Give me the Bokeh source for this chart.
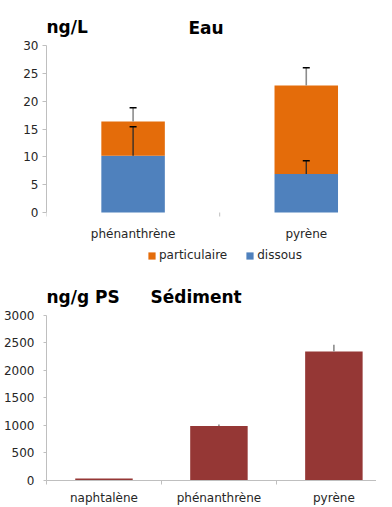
from bokeh.plotting import figure
from bokeh.layouts import column
from bokeh.models import (ColumnDataSource, Range1d, FixedTicker, Whisker, TeeHead,
                          Label, Legend, LegendItem)
from bokeh.core.properties import value
from bokeh.embed import file_html
from bokeh.resources import INLINE

# ---------------- data ----------------
eau_categories = ["phénanthrène", "pyrène"]
eau_dissous = [10.2, 6.9]
eau_particulaire = [6.15, 15.9]
eau_dissous_err = [5.2, 2.4]
eau_total_err = [2.45, 3.2]
eau_ticks = [0, 5, 10, 15, 20, 25, 30]

sed_categories = ["naphtalène", "phénanthrène", "pyrène"]
sed_values = [35, 990, 2340]
sed_err = [0, 25, 125]
sed_ticks = [0, 500, 1000, 1500, 2000, 2500, 3000]

ORANGE = "#E46C0A"
BLUE = "#4F81BD"
MAROON = "#953735"
TXT = "#262626"
AX = "#bfbfbf"
FONT = "DejaVu Sans"


def style(p, ticks, tick_out, standoff):
    p.outline_line_color = None
    p.xgrid.grid_line_color = None
    p.ygrid.grid_line_color = None
    p.background_fill_color = "white"
    p.border_fill_color = "white"
    ya = p.yaxis[0]
    ya.ticker = FixedTicker(ticks=ticks)
    ya.bounds = (ticks[0], ticks[-1])
    ya.axis_line_color = AX
    ya.major_tick_line_color = AX
    ya.major_tick_out = tick_out
    ya.major_tick_in = 0
    ya.minor_tick_line_color = None
    ya.major_label_text_font = FONT
    ya.major_label_text_font_size = "12px"
    ya.major_label_text_color = TXT
    ya.major_label_standoff = standoff


def title(p, text, x, y):
    p.add_layout(Label(x=x, y=y, x_units="screen", y_units="screen", text=text,
                       text_font=FONT, text_font_style="bold", text_font_size="17px",
                       text_baseline="middle", text_color="black", level="annotation"))


# ---------------- top: Eau ----------------
n1 = len(eau_categories)
x1 = [i + 0.5 for i in range(n1)]
tot1 = [d + q for d, q in zip(eau_dissous, eau_particulaire)]
src1 = ColumnDataSource(dict(
    x=x1, dissous=eau_dissous, part=eau_particulaire, total=tot1,
    d_up=[d + e for d, e in zip(eau_dissous, eau_dissous_err)],
    t_up=[t + e for t, e in zip(tot1, eau_total_err)],
    label=eau_categories,
))

px1 = 180.0          # pixels per category
py1 = 167.0 / 30     # pixels per ng/L
p1 = figure(width=376, height=264, output_backend="svg", toolbar_location=None,
            x_axis_location=None,
            x_range=Range1d(0, 343 / px1), y_range=Range1d(-52 / py1, 212 / py1),
            min_border_left=33, min_border_right=0, min_border_top=0, min_border_bottom=0)
style(p1, eau_ticks, 4, 4)

r_d = p1.vbar(x="x", top="dissous", bottom=0, width=66 / px1, source=src1,
              fill_color=BLUE, line_color=None)
r_p = p1.vbar(x="x", top="total", bottom="dissous", width=66 / px1, source=src1,
              fill_color=ORANGE, line_color=None)

p1.add_layout(Whisker(base="x", lower="dissous", upper="d_up", source=src1, dimension="height",
                      line_color="#2b2b2b", line_width=1.3, lower_head=None, level="annotation",
                      upper_head=TeeHead(size=7, line_color="black", line_width=1.5)))
p1.add_layout(Whisker(base="x", lower="total", upper="t_up", source=src1, dimension="height",
                      line_color="#8c8c8c", line_width=1.6, lower_head=None, level="annotation",
                      upper_head=TeeHead(size=7, line_color="black", line_width=1.5)))

# category labels and boundary ticks of the x axis
bounds1 = list(range(n1 + 1))
p1.segment(x0=bounds1, x1=bounds1, y0=[0] * len(bounds1), y1=[-4 / py1] * len(bounds1),
           line_color=AX, line_width=1)
p1.text(x="x", y=0, text="label", source=src1, y_offset=21, text_align="center",
        text_baseline="middle", text_font=value(FONT), text_font_size="12px", text_color=TXT)

legend1 = Legend(items=[LegendItem(label="particulaire", renderers=[r_p]),
                        LegendItem(label="dissous", renderers=[r_d])],
                 orientation="horizontal", location=(101, 2),
                 glyph_width=9, glyph_height=9, label_standoff=3, spacing=18,
                 padding=0, margin=0, border_line_color=None, background_fill_alpha=0,
                 label_text_font=FONT, label_text_font_size="12px",
                 label_text_color=TXT, label_height=13)
p1.add_layout(legend1, "center")

title(p1, "ng/L", 0, 238)
title(p1, "Eau", 142, 237)

# ---------------- bottom: Sédiment ----------------
n2 = len(sed_categories)
x2 = [i + 0.5 for i in range(n2)]
src2 = ColumnDataSource(dict(
    x=x2, v=sed_values,
    up=[v + e for v, e in zip(sed_values, sed_err)],
))

px2 = 116.0
py2 = 166.0 / 3000
p2 = figure(width=376, height=243, output_backend="svg", toolbar_location=None,
            x_range=Range1d(0, 333 / px2), y_range=Range1d(0, 217 / py2),
            min_border_left=43, min_border_right=0, min_border_top=0, min_border_bottom=0)
style(p2, sed_ticks, 3, 9)

p2.vbar(x="x", top="v", bottom=0, width=58 / px2, source=src2, fill_color=MAROON, line_color=None)
p2.add_layout(Whisker(base="x", lower="v", upper="up", source=src2, dimension="height",
                      line_color="#8c8c8c", line_width=1.6, lower_head=None, upper_head=None,
                      level="annotation"))

xb = p2.xaxis[0]
xb.ticker = FixedTicker(ticks=x2, minor_ticks=list(range(n2 + 1)))
xb.major_label_overrides = {v: c for v, c in zip(x2, sed_categories)}
xb.axis_line_color = AX
xb.major_tick_line_color = None
xb.major_tick_out = 0
xb.major_tick_in = 0
xb.minor_tick_line_color = AX
xb.minor_tick_out = 4
xb.minor_tick_in = 0
xb.major_label_text_font = FONT
xb.major_label_text_font_size = "12px"
xb.major_label_text_color = TXT
xb.major_label_standoff = 6

title(p2, "ng/g PS", 0, 184)
title(p2, "Sédiment", 104, 184)

layout = column(p1, p2, spacing=0)
open("out.html", "w").write(file_html(layout, INLINE))
